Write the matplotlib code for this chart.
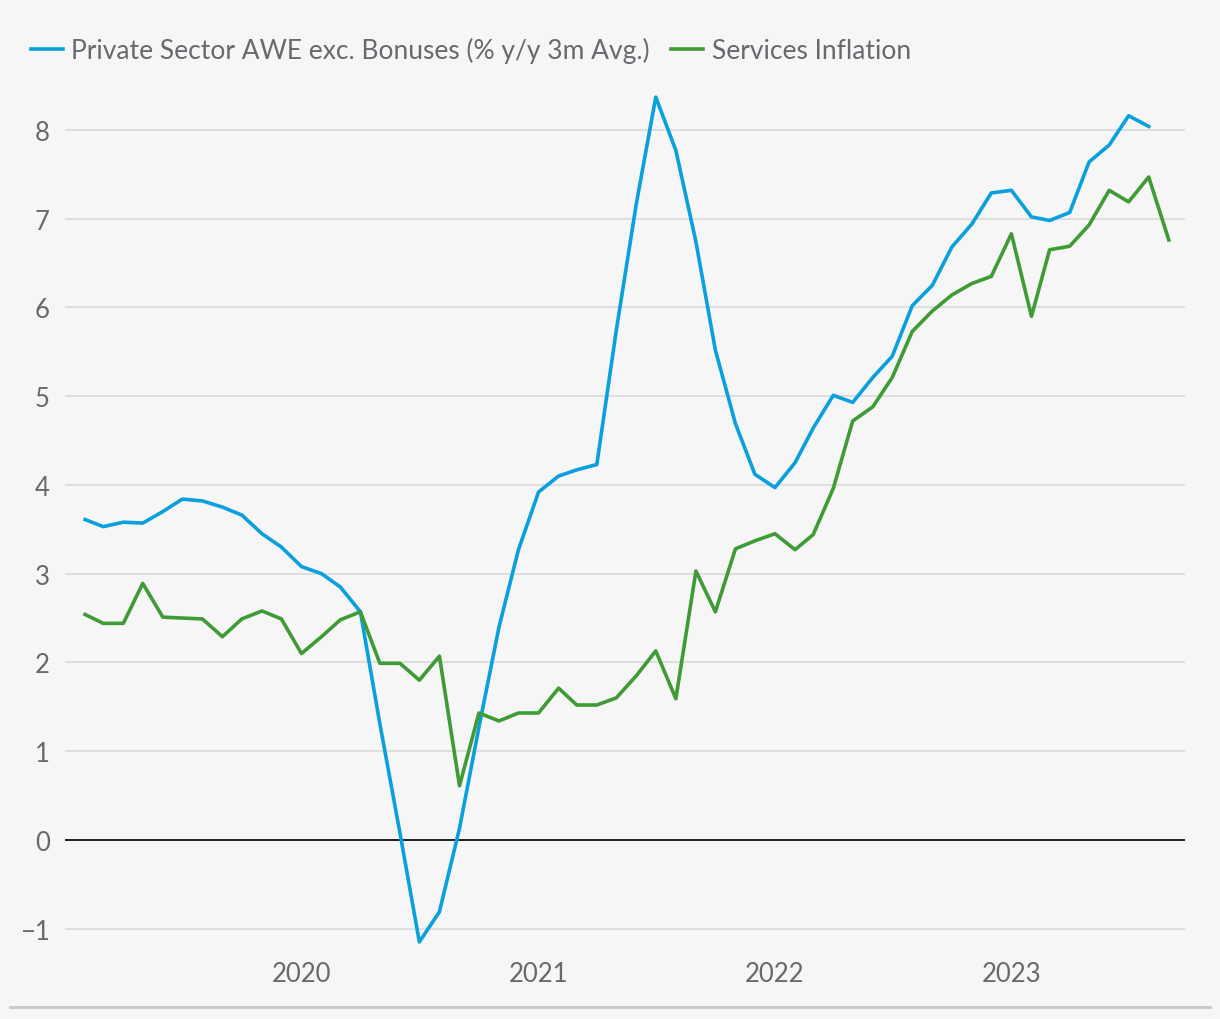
import matplotlib.pyplot as plt
import matplotlib.dates as mdates
from matplotlib.lines import Line2D
import pandas as pd

# monthly series, Feb 2019 onwards
awe = [3.61, 3.53, 3.58, 3.57, 3.70, 3.84, 3.82, 3.75, 3.66, 3.45,
       3.30, 3.08, 3.00, 2.85, 2.57, 1.31, 0.08, -1.15, -0.81, 0.13,
       1.27, 2.40, 3.27, 3.92, 4.10, 4.17, 4.23, 5.74, 7.17, 8.37,
       7.77, 6.74, 5.52, 4.69, 4.12, 3.97, 4.25, 4.64, 5.01, 4.93,
       5.21, 5.45, 6.02, 6.25, 6.68, 6.94, 7.29, 7.32, 7.02, 6.98,
       7.07, 7.64, 7.83, 8.16, 8.04]
services = [2.54, 2.44, 2.44, 2.89, 2.51, 2.50, 2.49, 2.29, 2.49, 2.58,
            2.49, 2.10, 2.29, 2.48, 2.57, 1.99, 1.99, 1.80, 2.07, 0.61,
            1.43, 1.34, 1.43, 1.43, 1.71, 1.52, 1.52, 1.60, 1.85, 2.13,
            1.59, 3.03, 2.57, 3.28, 3.37, 3.45, 3.27, 3.44, 3.96, 4.72,
            4.88, 5.21, 5.73, 5.96, 6.14, 6.27, 6.35, 6.83, 5.90, 6.65,
            6.69, 6.93, 7.32, 7.19, 7.47, 6.76]
dates = pd.date_range('2019-02-01', periods=len(services), freq='MS')

grey = '#666a6e'
plt.rcParams['font.family'] = ['Lato', 'DejaVu Sans']

fig = plt.figure(figsize=(12.2, 10.2), dpi=100, facecolor='#f6f6f6')
ax = fig.add_axes([0.0533, 0.0625, 0.918, 0.870])
ax.set_facecolor('#f6f6f6')

ax.plot(dates[:len(awe)], awe, color='#0a9fdd', lw=2.6,
        label='Private Sector AWE exc. Bonuses (% y/y 3m Avg.)')
ax.plot(dates, services, color='#3f9b35', lw=2.6, label='Services Inflation')
ax.axhline(0, color='#111111', lw=1.3, zorder=1)

ax.set_ylim(-1.3, 8.7)
ax.set_xlim(pd.Timestamp('2019-01-01'), pd.Timestamp('2023-09-26'))
ax.set_yticks(range(-1, 9))
ax.grid(axis='y', color='#dcdcdc', lw=1.3)
ax.set_axisbelow(True)
ax.set_xticks([pd.Timestamp(f'{y}-01-01') for y in range(2020, 2024)])
ax.xaxis.set_major_formatter(mdates.DateFormatter('%Y'))
ax.tick_params(length=0, labelsize=18.5, labelcolor=grey)
ax.tick_params(axis='y', pad=11)
ax.tick_params(axis='x', pad=4)
for s in ax.spines.values():
    s.set_visible(False)

fig.legend(loc='upper left', bbox_to_anchor=(0.006, 0.986), ncol=2, frameon=False,
           fontsize=19, labelcolor=grey, handlelength=1.2, handletextpad=0.33,
           columnspacing=0.8)

fig.add_artist(Line2D([0.008, 0.992], [0.012, 0.012], color='#c8c8c8', lw=2))

plt.savefig('out.png', dpi=100, facecolor=fig.get_facecolor())
